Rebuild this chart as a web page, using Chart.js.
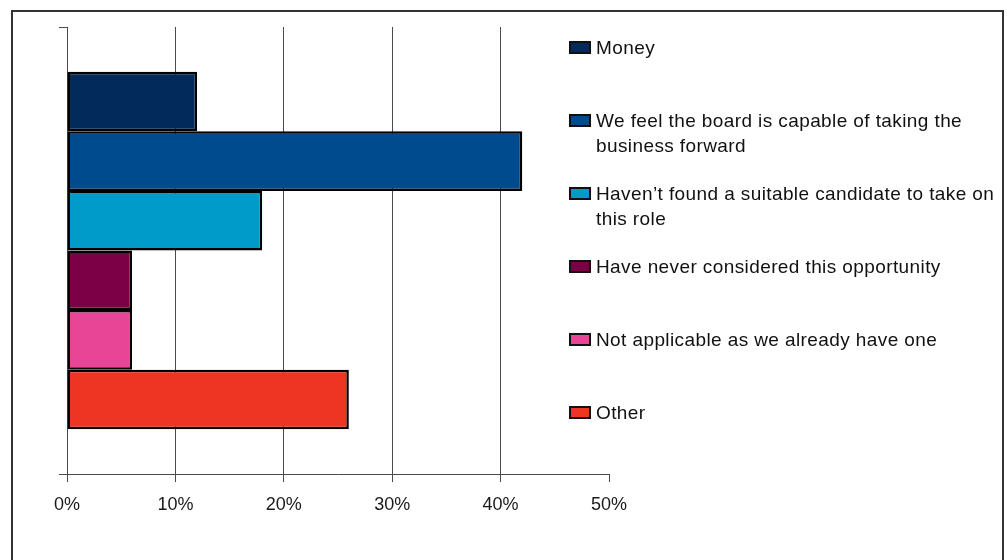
<!DOCTYPE html>
<html>
<head>
<meta charset="utf-8">
<script src="https://cdn.jsdelivr.net/npm/chart.js@4/dist/chart.umd.min.js"></script>
<style>
  html, body { margin: 0; padding: 0; background: #fff; }
  #wrap { position: relative; width: 1007px; height: 560px; overflow: hidden; }
  #frame {
    position: absolute; left: 11px; top: 10px; width: 993px; height: 600px;
    border: 2px solid #333; box-sizing: border-box;
  }
  #chart { position: absolute; left: 0; top: 0; }
  #legend {
    position: absolute; left: 569px; top: 35px; width: 432px;
    font-family: "Liberation Sans", Arial, sans-serif; font-size: 19px;
    letter-spacing: 0.4px; color: #111;
  }
  .item { position: relative; height: 73px; padding-left: 27px; line-height: 25px; box-sizing: border-box; }
  .box {
    position: absolute; left: 0; top: 6px; width: 22px; height: 13px;
    border: 2px solid #111; box-sizing: border-box;
  }
</style>
</head>
<body>
<div id="wrap">
  <div id="frame"></div>
  <canvas id="chart" width="1007" height="560"></canvas>
  <div id="legend"></div>
</div>
<script>
// 資料
const categories = [''];
const seriesNames = [
  'Money',
  'We feel the board is capable of taking the business forward',
  'Haven\u2019t found a suitable candidate to take on this role',
  'Have never considered this opportunity',
  'Not applicable as we already have one',
  'Other'
];
const seriesValues = [12, 42, 18, 6, 6, 26];
const seriesColors = ['#022b5b', '#004b8d', '#009bc9', '#7b0046', '#e94596', '#ee3524'];
const xTicks = [0, 10, 20, 30, 40, 50];

const gridColor = '#4a4a4a';

const datasets = seriesNames.map((name, i) => ({
  label: name,
  data: [seriesValues[i]],
  backgroundColor: seriesColors[i],
  borderColor: '#000',
  borderWidth: 2.5,
  borderSkipped: false,
  categoryPercentage: 0.8,
  barPercentage: 1
}));

new Chart(document.getElementById('chart'), {
  type: 'bar',
  data: { labels: categories, datasets: datasets },
  options: {
    indexAxis: 'y',
    responsive: false,
    animation: false,
    layout: { padding: { left: 59, top: 27, right: 398, bottom: 0 } },
    plugins: { legend: { display: false }, tooltip: { enabled: false } },
    scales: {
      x: {
        min: xTicks[0],
        max: xTicks[xTicks.length - 1],
        afterBuildTicks: s => { s.ticks = xTicks.map(v => ({ value: v })); },
        afterFit: s => { s.height = 86; },
        grid: {
          color: c => (c.tick && c.tick.value === 50) ? 'rgba(0,0,0,0)' : gridColor,
          tickColor: gridColor,
          tickLength: 8,
          lineWidth: 1
        },
        border: { display: true, color: gridColor, width: 1 },
        ticks: {
          padding: 12,
          color: '#1a1a1a',
          font: { family: '"Liberation Sans", Arial, sans-serif', size: 18 },
          callback: v => v + '%'
        }
      },
      y: {
        afterFit: s => { s.width = 8; },
        grid: {
          drawOnChartArea: false,
          offset: true,
          tickLength: 8,
          color: gridColor,
          tickColor: gridColor
        },
        border: { display: true, color: gridColor, width: 1 },
        ticks: { display: false }
      }
    }
  }
});

// 圖例
const legend = document.getElementById('legend');
seriesNames.forEach((name, i) => {
  const item = document.createElement('div');
  item.className = 'item';
  const box = document.createElement('span');
  box.className = 'box';
  box.style.background = seriesColors[i];
  item.appendChild(box);
  item.appendChild(document.createTextNode(name));
  legend.appendChild(item);
});
</script>
</body>
</html>
